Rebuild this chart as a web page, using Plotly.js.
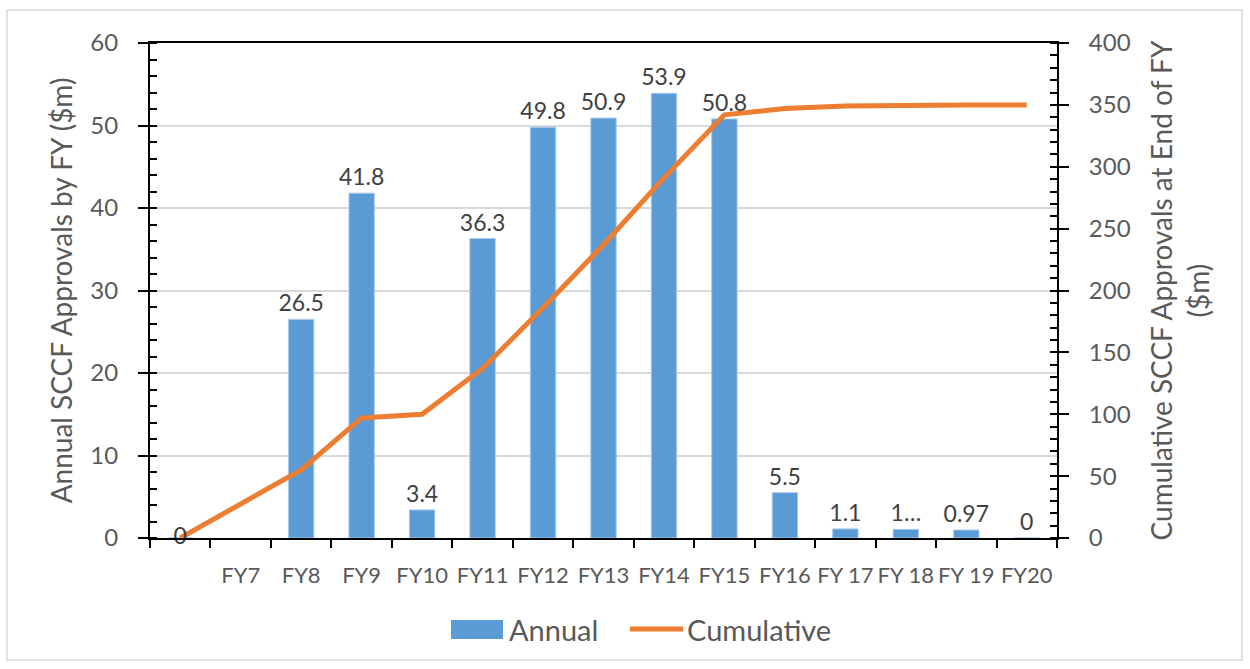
<!DOCTYPE html>
<html>
<head>
<meta charset="utf-8">
<script src="https://cdn.plot.ly/plotly-3.0.1.min.js"></script>
<style>html,body{margin:0;padding:0;background:#fff;}#chart{width:1250px;height:669px;}</style>
</head>
<body>
<div id="chart"></div>
<script>
var categories = [" ", "FY7", "FY8", "FY9", "FY10", "FY11", "FY12", "FY13", "FY14", "FY15", "FY16", "FY 17", "FY 18", "FY 19", "FY20"];
var annual = [0, null, 26.5, 41.8, 3.4, 36.3, 49.8, 50.9, 53.9, 50.8, 5.5, 1.1, 1.04, 0.97, 0];
var annualLabels = ["", "", "26.5", "41.8", "3.4", "36.3", "49.8", "50.9", "53.9", "50.8", "5.5", "1.1", "1…", "0.97", "0"];
var cumulative = [0, 28, 55, 97, 100, 137, 186, 237, 291, 342, 347, 349, 350, 350, 350];
var cumulativeLabels = ["0", "", "", "", "", "", "", "", "", "", "", "", "", "", ""];

var FONT = "Lato, 'Open Sans', sans-serif";
var GREY = "#595959";

var traces = [
  {
    type: "bar", name: "Annual", x: categories, y: annual,
    text: annualLabels, textposition: "outside", cliponaxis: false, constraintext: "none",
    textfont: {family: FONT, size: 23, color: "#404040"},
    marker: {color: "#5b9bd5", line: {color: "#a9c9ea", width: 1}},
    yaxis: "y", showlegend: false, hoverinfo: "x+y"
  },
  {
    type: "scatter", mode: "lines+text", name: "Cumulative", x: categories, y: cumulative,
    text: cumulativeLabels, textposition: "middle center", cliponaxis: false,
    textfont: {family: FONT, size: 23, color: "#404040"},
    line: {color: "#ed7d31", width: 5},
    yaxis: "y2", showlegend: false
  }
];

function px2x(p){ return (p - 150) / 907; }
function py2y(p){ return (538 - p) / 495; }

var layout = {
  width: 1250, height: 669,
  margin: {l: 150, r: 193, t: 43, b: 131},
  paper_bgcolor: "#fff", plot_bgcolor: "#fff",
  font: {family: FONT, color: GREY},
  showlegend: false,
  bargap: 0.58,
  xaxis: {
    type: "category", tickson: "boundaries",
    ticks: "outside", ticklen: 8, tickwidth: 2, tickcolor: "#000",
    showline: true, linecolor: "#000", linewidth: 2, mirror: true,
    showgrid: false, zeroline: false,
    tickfont: {family: FONT, size: 22, color: GREY},
    tickangle: 0,
    ticklabelstandoff: 17,
    range: [-0.5, 14.5]
  },
  yaxis: {
    range: [0, 60], dtick: 10, tick0: 0,
    ticks: "outside", ticklen: 10, tickwidth: 2, tickcolor: "#000",
    showline: true, linecolor: "#000", linewidth: 2,
    showgrid: true, gridcolor: "#d9d9d9", gridwidth: 1.5, zeroline: false,
    tickfont: {family: FONT, size: 24, color: GREY},
    ticklabelstandoff: 15,
    minor: {dtick: 2, ticks: "inside", ticklen: 7, tickwidth: 2, tickcolor: "#000", showgrid: false},
    title: {text: "Annual SCCF Approvals by FY ($m)", font: {family: FONT, size: 28, color: GREY}, standoff: 10}
  },
  yaxis2: {
    overlaying: "y", side: "right", anchor: "x",
    range: [0, 400], dtick: 50, tick0: 0,
    ticks: "outside", ticklen: 10, tickwidth: 2, tickcolor: "#000",
    showline: true, linecolor: "#000", linewidth: 2,
    showgrid: false, zeroline: false,
    tickfont: {family: FONT, size: 24, color: GREY},
    ticklabelstandoff: 15,
    minor: {dtick: 10, ticks: "inside", ticklen: 7, tickwidth: 2, tickcolor: "#000", showgrid: false},
    title: {text: "Cumulative SCCF Approvals at End of FY<br>($m)", font: {family: FONT, size: 28, color: GREY}, standoff: 23}
  },
  yaxis3: {
    overlaying: "y", side: "left", anchor: "x",
    range: [0, 60], dtick: 10, ticks: "inside", ticklen: 10, tickwidth: 2, tickcolor: "#000",
    showticklabels: false, showgrid: false, showline: false, zeroline: false
  },
  yaxis4: {
    overlaying: "y", side: "right", anchor: "x",
    range: [0, 400], dtick: 50, ticks: "inside", ticklen: 10, tickwidth: 2, tickcolor: "#000",
    showticklabels: false, showgrid: false, showline: false, zeroline: false
  },
  shapes: [
    {type: "rect", xref: "paper", yref: "paper", x0: px2x(7), x1: px2x(1242), y0: py2y(660), y1: py2y(10),
     line: {color: "#d9d9d9", width: 1.5}, fillcolor: "rgba(0,0,0,0)", layer: "below"},
    {type: "rect", xref: "paper", yref: "paper", x0: px2x(451), x1: px2x(503), y0: py2y(639), y1: py2y(620),
     line: {width: 0}, fillcolor: "#5b9bd5"},
    {type: "line", xref: "paper", yref: "paper", x0: px2x(630), x1: px2x(683), y0: py2y(629), y1: py2y(629),
     line: {color: "#ed7d31", width: 5}}
  ],
  annotations: [
    {xref: "paper", yref: "paper", x: px2x(507), y: py2y(629), xanchor: "left", yanchor: "middle",
     text: "Annual", showarrow: false, font: {family: FONT, size: 29, color: GREY}},
    {xref: "paper", yref: "paper", x: px2x(685), y: py2y(629), xanchor: "left", yanchor: "middle",
     text: "Cumulative", showarrow: false, font: {family: FONT, size: 29, color: GREY}}
  ]
};

Plotly.newPlot("chart", traces, layout, {displayModeBar: false, responsive: false});
</script>
</body>
</html>
